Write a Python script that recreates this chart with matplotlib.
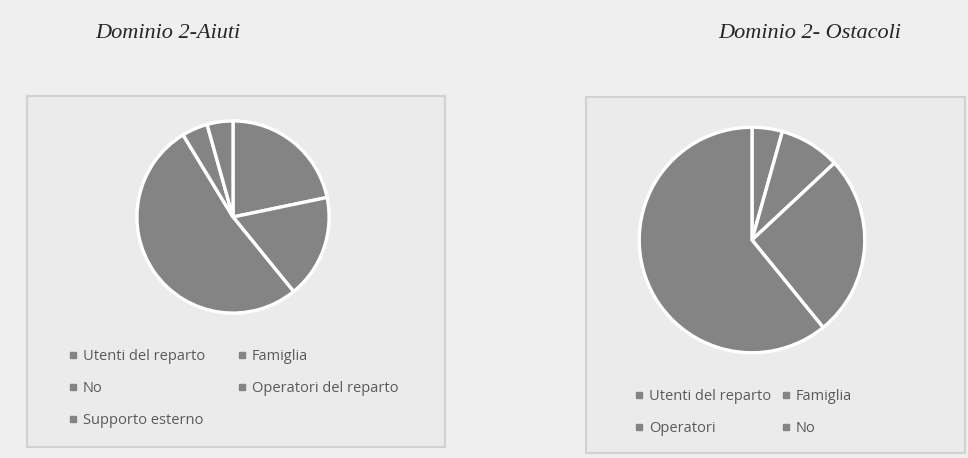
import matplotlib
matplotlib.use("Agg")
import matplotlib.pyplot as plt
from matplotlib.patches import Rectangle
from matplotlib.lines import Line2D

# Domain 2 answers (counts)
aiuti_labels = ["Utenti del reparto", "Famiglia", "No", "Operatori del reparto", "Supporto esterno"]
aiuti_values = [5, 4, 12, 1, 1]

ostacoli_labels = ["Utenti del reparto", "Famiglia", "Operatori", "No"]
ostacoli_values = [1, 2, 6, 14]

titles = ["Dominio 2-Aiuti", "Dominio 2- Ostacoli"]

W, H = 968, 458
BG = "#efefef"
BOX = "#ebebeb"
SLICE = "#848484"
TXT = "#5a5a5a"


def px(x0, y0, x1, y1):
    # pixel box (top-left origin) -> figure fraction rect
    return [x0 / W, (H - y1) / H, (x1 - x0) / W, (y1 - y0) / H]


fig = plt.figure(figsize=(W / 100, H / 100), dpi=100, facecolor=BG)

# panel frames
for (x0, y0, x1, y1) in [(27, 96, 445, 447), (586, 97, 965, 453)]:
    r = px(x0, y0, x1, y1)
    fig.patches.append(Rectangle((r[0], r[1]), r[2], r[3], transform=fig.transFigure,
                                 facecolor=BOX, edgecolor="#d2d2d2", linewidth=1.5, zorder=-5))

fig.text(95 / W, 1 - 34 / H, titles[0], fontsize=16, family="Liberation Serif",
         style="italic", color="#262626", va="center")
fig.text(718 / W, 1 - 34 / H, titles[1], fontsize=16, family="Liberation Serif",
         style="italic", color="#262626", va="center")


def draw_pie(rect, values, labels, order, leg_anchor, colspacing):
    ax = fig.add_axes(rect, zorder=2)
    ax.pie(values, colors=[SLICE] * len(values), startangle=90, counterclock=False,
           wedgeprops=dict(edgecolor="white", linewidth=2.4))
    ax.set_xlim(-1.02, 1.02)
    ax.set_ylim(-1.02, 1.02)
    ax.set_aspect("equal")
    ax.set_axis_off()

    handles = [Line2D([], [], marker="s", linestyle="none", markersize=4,
                      color=SLICE) for _ in labels]
    h = [handles[i] for i in order]
    l = [labels[i] for i in order]
    fig.legend(h, l, loc="upper left", bbox_to_anchor=leg_anchor, ncol=2, frameon=False,
               prop=dict(family="Open Sans", size=10.5), labelcolor=TXT,
               handlelength=0.5, handletextpad=0.4, columnspacing=colspacing,
               labelspacing=1.17, borderaxespad=0)


draw_pie(px(135, 119, 331, 315), aiuti_values, aiuti_labels, [0, 2, 4, 1, 3],
         (64 / W, 1 - 343 / H), 2.3)
draw_pie(px(637, 125, 867, 355), ostacoli_values, ostacoli_labels, [0, 2, 1, 3],
         (630 / W, 1 - 383 / H), 0.75)

fig.savefig("out.png", dpi=100, facecolor=BG)
